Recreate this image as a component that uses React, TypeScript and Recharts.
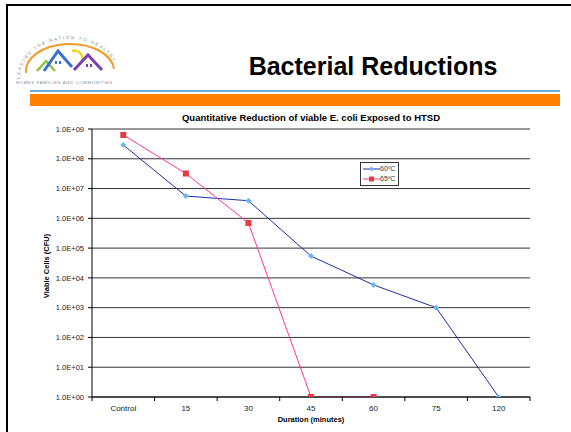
import React from "react";
import { LineChart, Line, XAxis, YAxis, CartesianGrid } from "recharts";

// categories on the x axis
const durations = ["Control", "15", "30", "45", "60", "75", "120"];
// viable cells (CFU)
const cells60 = [2.9e8, 5.6e6, 3.9e6, 5.4e4, 5.8e3, 1.0e3, 1];
const cells65 = [6.3e8, 3.2e7, 7.0e5, 1, 1, null, null];

const yTicks = [1, 1e1, 1e2, 1e3, 1e4, 1e5, 1e6, 1e7, 1e8, 1e9];
const yTickLabels = [
  "1.0E+00",
  "1.0E+01",
  "1.0E+02",
  "1.0E+03",
  "1.0E+04",
  "1.0E+05",
  "1.0E+06",
  "1.0E+07",
  "1.0E+08",
  "1.0E+09",
];
const seriesNames = ["60ºC", "65ºC"];

const data = durations.map((d, i) => ({
  idx: i,
  name: d,
  c60: cells60[i],
  c65: cells65[i],
}));

const catTicks = durations.map((_, i) => i);
const sepTicks = [...durations.map((_, i) => i - 0.5), durations.length - 0.5];

const font = "'Liberation Sans', Arial, sans-serif";
const BLUE = "#1a2fa8";
const BLUE_MK = "#6db4ff";
const PINK = "#ff3399";
const RED_MK = "#e83a40";

const Diamond = (props: any) => {
  const { cx, cy } = props;
  if (cx == null || cy == null) return null;
  return (
    <path
      d={`M${cx},${cy - 3}L${cx + 3},${cy}L${cx},${cy + 3}L${cx - 3},${cy}Z`}
      fill={BLUE_MK}
    />
  );
};

const Square = (props: any) => {
  const { cx, cy } = props;
  if (cx == null || cy == null) return null;
  return <rect x={cx - 3} y={cy - 3} width={6} height={6} fill={RED_MK} />;
};

const LegendBox = () => (
  <div
    style={{
      position: "absolute",
      left: 360,
      top: 162,
      border: "1px solid #333",
      background: "#fff",
      padding: "1px 3px 1px 2px",
      fontFamily: font,
      fontSize: 7,
      color: "#333",
      lineHeight: "10px",
    }}
  >
    {seriesNames.map((n, i) => (
      <div key={n} style={{ display: "flex", alignItems: "center" }}>
        <svg width={17} height={10}>
          <line x1={0} y1={5} x2={17} y2={5} stroke={i === 0 ? BLUE : PINK} />
          {i === 0 ? (
            <path d="M8.5,2.5L11,5L8.5,7.5L6,5Z" fill={BLUE_MK} />
          ) : (
            <rect x={6} y={2.5} width={5} height={5} fill={RED_MK} />
          )}
        </svg>
        <span>{n}</span>
      </div>
    ))}
  </div>
);

const Logo = () => (
  <svg width={110} height={62} style={{ position: "absolute", left: 12, top: 27 }}>
    <defs>
      <path id="arcTop" d="M8,52 A48,38 0 0 1 106,50" />
    </defs>
    <text fontSize={4.5} fill="#8a8a8a" fontFamily={font} letterSpacing={1.6}>
      <textPath href="#arcTop">LEADING THE NATION TO HEALTHY</textPath>
    </text>
    <path d="M14,46 A44,27 0 0 1 102,42" fill="none" stroke="#f59a2a" strokeWidth={2} />
    <path d="M60,24 A8,8 0 0 1 70,34" fill="none" stroke="#f5d520" strokeWidth={2.5} />
    <path d="M25,44 L34,34 L43,44" fill="none" stroke="#8cc63f" strokeWidth={2.5} />
    <path d="M32,44 L46,24 L60,40" fill="none" stroke="#3b6fd0" strokeWidth={3} />
    <path d="M62,43 L76,28 L90,43" fill="none" stroke="#7a3fb0" strokeWidth={3} />
    <rect x={43} y={34} width={2} height={3} fill="#3b6fd0" />
    <rect x={47} y={34} width={2} height={3} fill="#3b6fd0" />
    <rect x={74} y={37} width={2} height={3} fill="#7a3fb0" />
    <rect x={78} y={37} width={2} height={3} fill="#7a3fb0" />
    <text x={4} y={57} fontSize={4.2} fill="#8a8a8a" fontFamily={font} letterSpacing={0.7}>
      HOMES FAMILIES AND COMMUNITIES
    </text>
  </svg>
);

export default function App() {
  return (
    <div
      style={{
        position: "absolute",
        left: 0,
        top: 0,
        width: 571,
        height: 432,
        overflow: "hidden",
        background: "#fff",
        fontFamily: font,
      }}
    >
      <div
        style={{
          position: "absolute",
          left: 6,
          top: 4,
          width: 600,
          height: 460,
          borderTop: "2px solid #000",
          borderLeft: "2px solid #000",
        }}
      />
      <Logo />
      <div
        style={{
          position: "absolute",
          left: 200,
          width: 346,
          top: 52,
          textAlign: "center",
          fontWeight: "bold",
          fontSize: 25,
          lineHeight: "29px",
          color: "#000",
        }}
      >
        Bacterial Reductions
      </div>
      <div
        style={{ position: "absolute", left: 30, top: 90, width: 530, height: 2, background: "#6aaee0" }}
      />
      <div
        style={{ position: "absolute", left: 30, top: 94, width: 530, height: 12, background: "#ff7f00" }}
      />
      <div
        style={{
          position: "absolute",
          left: 92,
          width: 438,
          top: 112,
          textAlign: "center",
          fontWeight: "bold",
          fontSize: 9.5,
          color: "#000",
        }}
      >
        Quantitative Reduction of viable E. coli Exposed to HTSD
      </div>
      <div
        style={{
          position: "absolute",
          left: 46,
          top: 266,
          transform: "translate(-50%, -50%) rotate(-90deg)",
          whiteSpace: "nowrap",
          fontWeight: "bold",
          fontSize: 7.5,
          color: "#000",
        }}
      >
        Viable Cells (CFU)
      </div>
      <div
        style={{
          position: "absolute",
          left: 92,
          width: 438,
          top: 415,
          textAlign: "center",
          fontWeight: "bold",
          fontSize: 7.5,
          color: "#000",
        }}
      >
        Duration (minutes)
      </div>
      <div style={{ position: "absolute", left: 0, top: 0 }}>
        <LineChart
          width={571}
          height={432}
          data={data}
          margin={{ top: 129, right: 41, left: 32, bottom: 14 }}
        >
          <CartesianGrid vertical={false} stroke="#333" strokeWidth={1} />
          {/* separator ticks between categories, on the axis line */}
          <XAxis
            dataKey="idx"
            type="number"
            domain={[-0.5, durations.length - 0.5]}
            ticks={sepTicks}
            interval={0}
            tickFormatter={() => ""}
            tickSize={4}
            tickLine={{ stroke: "#000" }}
            axisLine={{ stroke: "#000" }}
            height={1}
          />
          {/* category labels */}
          <XAxis
            xAxisId="lbl"
            dataKey="idx"
            type="number"
            domain={[-0.5, durations.length - 0.5]}
            ticks={catTicks}
            interval={0}
            tickFormatter={(v: number) => durations[v]}
            tickLine={false}
            axisLine={false}
            tickSize={0}
            tickMargin={7}
            tick={{ fontSize: 8, fill: "#222", fontFamily: font }}
            height={20}
          />
          <YAxis
            scale="log"
            domain={[1, 1e9]}
            ticks={yTicks}
            interval={0}
            tickFormatter={(v: number) => yTickLabels[yTicks.indexOf(v)]}
            tickSize={4}
            tickMargin={4}
            tickLine={{ stroke: "#000" }}
            axisLine={{ stroke: "#000" }}
            tick={{ fontSize: 7.5, fill: "#222", fontFamily: font }}
            width={60}
            allowDataOverflow
          />
          <YAxis
            yAxisId="r"
            orientation="right"
            tick={false}
            tickLine={false}
            axisLine={{ stroke: "#999", strokeWidth: 1.5 }}
            width={0}
          />
          <Line
            dataKey="c60"
            name={seriesNames[0]}
            stroke={BLUE}
            strokeWidth={1}
            dot={<Diamond />}
            isAnimationActive={false}
          />
          <Line
            dataKey="c65"
            name={seriesNames[1]}
            stroke={PINK}
            strokeWidth={1}
            dot={<Square />}
            isAnimationActive={false}
          />
        </LineChart>
      </div>
      <LegendBox />
    </div>
  );
}
